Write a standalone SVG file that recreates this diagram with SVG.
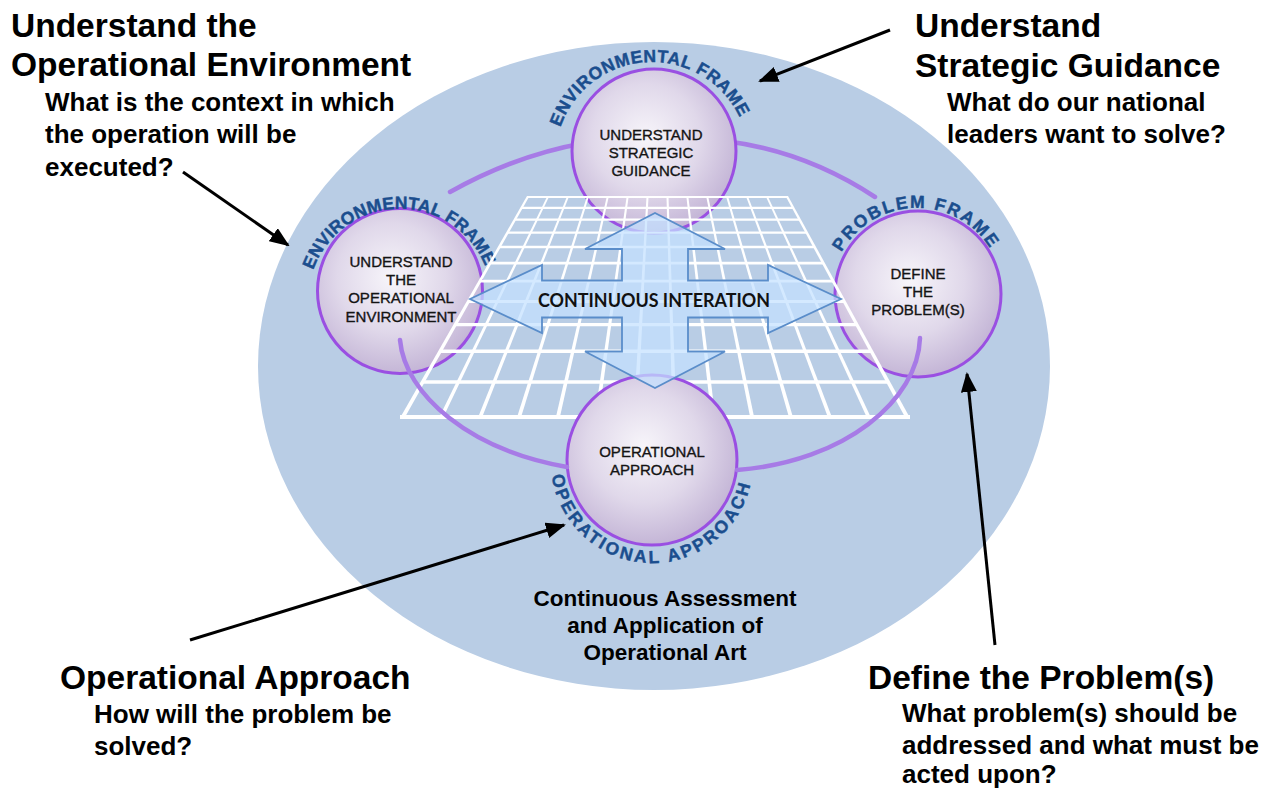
<svg xmlns="http://www.w3.org/2000/svg" width="1276" height="789" viewBox="0 0 1276 789">
<style>
.lbl{font-family:"Liberation Sans",Arial,sans-serif;font-size:15px;fill:#141414;stroke:#141414;stroke-width:0.35;text-anchor:middle}
.arc{font-family:"Liberation Sans",Arial,sans-serif;font-weight:bold;font-size:17.5px;fill:#1B4E8E;stroke:#1B4E8E;stroke-width:0.45}
.h{font-family:"Liberation Sans",Arial,sans-serif;font-weight:bold;font-size:33.5px;fill:#000}
.s{font-family:"Liberation Sans",Arial,sans-serif;font-weight:bold;font-size:26px;fill:#000}
.c{font-family:"Liberation Sans",Arial,sans-serif;font-weight:bold;font-size:22.5px;fill:#000;text-anchor:middle}
.ci{font-family:Lato,"Open Sans",sans-serif;font-weight:bold;font-size:18px;fill:#111;text-anchor:middle}
.ball{fill:url(#ballGrad);stroke:#9A4FE2;stroke-width:3}
.orbit{fill:none;stroke:#A77BE6;stroke-width:4.5;stroke-linecap:round}
.grid{fill:none;stroke:#fff}
.gv{fill:#fff}
.conn{fill:none;stroke:#000;stroke-width:3}
</style>
<defs>
<radialGradient id="ballGrad" cx="45%" cy="42%" r="60%">
<stop offset="0" stop-color="#F7F5FA"/>
<stop offset="0.55" stop-color="#E0D8EA"/>
<stop offset="1" stop-color="#C2B3D5"/>
</radialGradient>
<marker id="ah" markerUnits="userSpaceOnUse" markerWidth="20" markerHeight="16" viewBox="0 0 20 16" refX="18" refY="8" orient="auto">
<path d="M0,0 L20,8 L0,16 Z" fill="#000"/>
</marker>
<path id="tpTop" d="M557.5,180.8 A97,97 0 1 1 748.3,170.8"/>
<path id="tpLeft" d="M309.8,319 A92,92 0 1 1 490.9,314.9"/>
<path id="tpRight" d="M832.6,310.4 A86,86 0 1 1 1001.9,307.5"/>
<path id="tpBottom" d="M553.2,441 A101,101 0 1 0 752,447.9"/>
</defs>
<rect width="1276" height="789" fill="#fff"/>
<ellipse id="outer-ellipse" cx="654" cy="366" rx="396" ry="324" fill="#B9CDE5"/>

<g id="orbit-top">
<path class="orbit" d="M450,192 Q516,155 585,143"/>
<path class="orbit" d="M725,141 Q805,151 875,197"/>
</g>

<g id="node-strategic">
<circle class="ball" cx="654" cy="151" r="82"/>
<text class="lbl" x="651" y="140">UNDERSTAND</text>
<text class="lbl" x="651" y="158">STRATEGIC</text>
<text class="lbl" x="651" y="176">GUIDANCE</text>
<text class="arc" letter-spacing="0.6"><textPath href="#tpTop" startOffset="50%" text-anchor="middle">ENVIRONMENTAL FRAME</textPath></text>
</g>

<g id="node-environment">
<circle class="ball" cx="400" cy="291" r="82.5"/>
<text class="lbl" x="401" y="267">UNDERSTAND</text>
<text class="lbl" x="401" y="285">THE</text>
<text class="lbl" x="401" y="303">OPERATIONAL</text>
<text class="lbl" x="401" y="322">ENVIRONMENT</text>
<text class="arc" letter-spacing="0.2"><textPath href="#tpLeft" startOffset="50%" text-anchor="middle">ENVIRONMENTAL FRAME</textPath></text>
</g>

<g id="node-problem">
<circle class="ball" cx="918" cy="294" r="83"/>
<text class="lbl" x="918" y="279">DEFINE</text>
<text class="lbl" x="918" y="297">THE</text>
<text class="lbl" x="918" y="315">PROBLEM(S)</text>
<text class="arc" letter-spacing="2"><textPath href="#tpRight" startOffset="50%" text-anchor="middle">PROBLEM FRAME</textPath></text>
</g>

<g id="grid">
<path class="grid" stroke-width="2.2" d="M521.8,207.8H792.9"/>
<path class="grid" stroke-width="2.3" d="M515.1,219.6H799.4"/>
<path class="grid" stroke-width="2.4" d="M507.7,232.6H806.5"/>
<path class="grid" stroke-width="2.5" d="M499.4,247.1H814.4"/>
<path class="grid" stroke-width="2.7" d="M490.3,263.1H823.2"/>
<path class="grid" stroke-width="2.8" d="M480.1,281.1H833"/>
<path class="grid" stroke-width="3" d="M468.4,301.5H844.2"/>
<path class="grid" stroke-width="3.2" d="M455.3,324.6H856.9"/>
<path class="grid" stroke-width="3.4" d="M440.1,351.2H871.4"/>
<path class="grid" stroke-width="3.7" d="M422.5,382H888.3"/>
<polygon class="gv" points="546.9,197 548.9,197 442.9,418 438.9,418"/>
<polygon class="gv" points="566.8,197 568.8,197 481.8,418 477.8,418"/>
<polygon class="gv" points="586.8,197 588.8,197 520.8,418 516.8,418"/>
<polygon class="gv" points="606.7,197 608.7,197 559.7,418 555.7,418"/>
<polygon class="gv" points="626.6,197 628.6,197 598.6,418 594.6,418"/>
<polygon class="gv" points="646.5,197 648.5,197 637.5,418 633.5,418"/>
<polygon class="gv" points="666.5,197 668.5,197 676.5,418 672.5,418"/>
<polygon class="gv" points="686.4,197 688.4,197 715.4,418 711.4,418"/>
<polygon class="gv" points="706.3,197 708.3,197 754.3,418 750.3,418"/>
<polygon class="gv" points="726.2,197 728.2,197 793.2,418 789.2,418"/>
<polygon class="gv" points="746.2,197 748.2,197 832.2,418 828.2,418"/>
<polygon class="gv" points="766.1,197 768.1,197 871.1,418 867.1,418"/>
<polygon class="gv" points="527,196 529.5,196 404.5,418 400,418"/>
<polygon class="gv" points="785.5,196 788,196 910,418 905.5,418"/>
<path class="grid" stroke-width="2.2" d="M527,197H788"/>
<path class="grid" stroke-width="4" d="M400,417H910"/>
</g>

<g id="node-approach">
<circle class="ball" cx="652" cy="460" r="85"/>
<text class="lbl" x="652" y="457">OPERATIONAL</text>
<text class="lbl" x="652" y="475">APPROACH</text>
<text class="arc" letter-spacing="2.65"><textPath href="#tpBottom" startOffset="50%" text-anchor="middle">OPERATIONAL APPROACH</textPath></text>
</g>

<g id="orbit-bottom">
<path class="orbit" d="M400,340 C405,395 470,450 567,467"/>
<path class="orbit" d="M920,338 C918,400 845,462 737,470"/>
</g>

<g id="node-continuous-interation">
<polygon points="470,299 542,265 542,280.5 622,280.5 622,249 585,249 655,213 725,249 688,249 688,280.5 768,280.5 768,265 841,299 768,333 768,317.5 688,317.5 688,351.5 725,351.5 655,388 585,351.5 622,351.5 622,317.5 542,317.5 542,333" fill="#C4E0FF" fill-opacity="0.72" stroke="#5A8DCA" stroke-width="1.8" stroke-linejoin="miter"/>
<text class="ci" x="654" y="307" textLength="232" lengthAdjust="spacingAndGlyphs">CONTINUOUS INTERATION</text>
</g>

<g id="note-environment">
<text class="h" x="11" y="37">Understand the</text>
<text class="h" x="11" y="76">Operational Environment</text>
<text class="s" x="45" y="111">What is the context in which</text>
<text class="s" x="45" y="143">the operation will be</text>
<text class="s" x="45" y="176">executed?</text>
</g>

<g id="note-strategic">
<text class="h" x="915" y="37">Understand</text>
<text class="h" x="915" y="77">Strategic Guidance</text>
<text class="s" x="947" y="111">What do our national</text>
<text class="s" x="947" y="143">leaders want to solve?</text>
</g>

<g id="note-approach">
<text class="h" x="60" y="689">Operational Approach</text>
<text class="s" x="94" y="723">How will the problem be</text>
<text class="s" x="94" y="755">solved?</text>
</g>

<g id="note-problem">
<text class="h" x="868" y="689">Define the Problem(s)</text>
<text class="s" x="902" y="722">What problem(s) should be</text>
<text class="s" x="902" y="754">addressed and what must be</text>
<text class="s" x="902" y="783">acted upon?</text>
</g>

<g id="note-assessment">
<text class="c" x="665" y="606">Continuous Assessment</text>
<text class="c" x="665" y="633">and Application of</text>
<text class="c" x="665" y="660">Operational Art</text>
</g>

<g id="connectors">
<line class="conn" x1="890" y1="30" x2="760" y2="81" marker-end="url(#ah)"/>
<line class="conn" x1="183" y1="172" x2="288" y2="245" marker-end="url(#ah)"/>
<line class="conn" x1="190" y1="640" x2="564" y2="525" marker-end="url(#ah)"/>
<line class="conn" x1="995" y1="645" x2="967" y2="374" marker-end="url(#ah)"/>
</g>
</svg>
